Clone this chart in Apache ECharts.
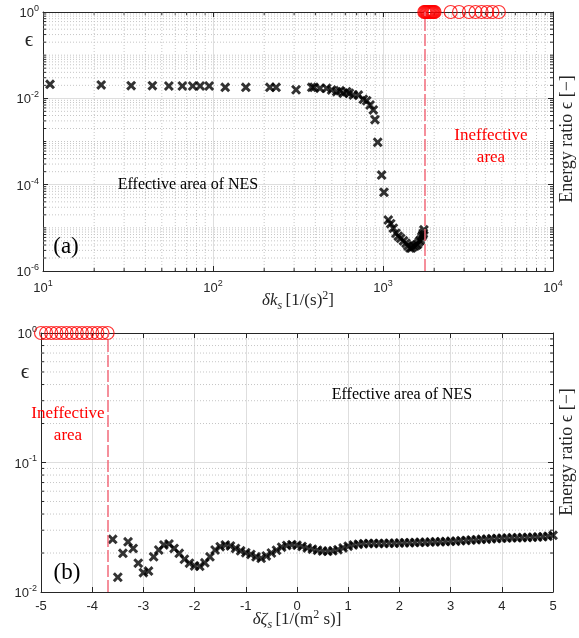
<!DOCTYPE html>
<html>
<head>
<meta charset="utf-8">
<script src="https://cdn.jsdelivr.net/npm/echarts@6/dist/echarts.min.js"></script>
<style>
html, body { margin: 0; padding: 0; background: #fff; }
#chart { width: 579px; height: 638px; }
</style>
</head>
<body>
<div id="chart"></div>
<script>
// panel (a): energy ratio vs delta k_s
const kX = [11, 22, 33, 44, 55, 66, 76, 84, 95, 118, 156, 216, 235, 308, 381, 393, 426, 466, 499,
  534, 559, 584, 611, 634, 669, 716, 766, 802, 839, 877, 897, 931, 982, 1013, 1074, 1110, 1150,
  1192, 1230, 1270, 1320, 1366, 1400, 1441, 1470, 1507, 1540, 1578, 1600, 1635, 1660, 1690, 1710, 1727, 1740];
const kEps = [0.0211, 0.0204, 0.0196, 0.0196, 0.0193, 0.0193, 0.0193, 0.0193, 0.0193, 0.018, 0.018, 0.018,
  0.018, 0.0158, 0.018, 0.018, 0.0171, 0.0171, 0.0156, 0.0143, 0.0150, 0.0131, 0.0143, 0.0131, 0.0119,
  0.0119, 0.0095, 0.0088, 0.0070, 0.0054, 0.0032, 0.00096, 1.67e-4, 6.65e-5, 1.52e-5, 1.25e-5, 9.8e-6,
  7.5e-6, 6.4e-6, 5.7e-6, 5.0e-6, 4.4e-6, 3.8e-6, 3.4e-6, 3.4e-6, 3.7e-6, 3.8e-6, 4.0e-6, 4.2e-6,
  4.8e-6, 5.2e-6, 6.2e-6, 6.8e-6, 7.5e-6, 9.0e-6];
const kOffX = [1750, 1770, 1790, 1810, 1830, 1850, 1870, 1890, 1910, 1930, 1950, 1970, 1990, 2010,
  2500, 2800, 3200, 3500, 3800, 4100, 4400, 4800];
const kLimit = 1750;

// panel (b): energy ratio vs delta zeta_s
const zX = [-3.6, -3.5, -3.4, -3.3, -3.2, -3.1, -3.0, -2.9, -2.8, -2.7, -2.6, -2.5, -2.4, -2.3, -2.2,
  -2.1, -2.0, -1.9, -1.8, -1.7, -1.6, -1.5, -1.4, -1.3, -1.2, -1.1, -1.0, -0.9, -0.8, -0.7, -0.6,
  -0.5, -0.4, -0.3, -0.2, -0.1, 0.0, 0.1, 0.2, 0.3, 0.4, 0.5, 0.6, 0.7, 0.8, 0.9, 1.0, 1.1, 1.2,
  1.3, 1.4, 1.5, 1.6, 1.7, 1.8, 1.9, 2.0, 2.1, 2.2, 2.3, 2.4, 2.5, 2.6, 2.7, 2.8, 2.9, 3.0, 3.1,
  3.2, 3.3, 3.4, 3.5, 3.6, 3.7, 3.8, 3.9, 4.0, 4.1, 4.2, 4.3, 4.4, 4.5, 4.6, 4.7, 4.8, 4.9, 5.0];
const zEps = [0.0255, 0.0130, 0.0199, 0.0244, 0.0217, 0.0167, 0.0141, 0.0145, 0.0187, 0.0211, 0.0231,
  0.0235, 0.0217, 0.0199, 0.0179, 0.0167, 0.0159, 0.0158, 0.0168, 0.0187, 0.0211, 0.0224, 0.0231,
  0.0227, 0.0217, 0.0208, 0.0201, 0.0195, 0.0187, 0.0182, 0.0190, 0.0200, 0.0210, 0.0222, 0.0229,
  0.0232, 0.0230, 0.0225, 0.0219, 0.0214, 0.0210, 0.0207, 0.0206, 0.0208, 0.0212, 0.0219, 0.0226,
  0.0231, 0.0234, 0.0236, 0.0237, 0.0237, 0.0237, 0.0237, 0.0238, 0.0238, 0.0239, 0.0240, 0.0240,
  0.0241, 0.0242, 0.0242, 0.0243, 0.0244, 0.0244, 0.0245, 0.0246, 0.0247, 0.0249, 0.0250, 0.0252,
  0.0253, 0.0255, 0.0256, 0.0258, 0.0259, 0.0260, 0.0261, 0.0262, 0.0262, 0.0263, 0.0264, 0.0265,
  0.0266, 0.0267, 0.0269, 0.0274];
const zOffX = [-5.0, -4.9, -4.8, -4.7, -4.6, -4.5, -4.4, -4.3, -4.2, -4.1, -4.0, -3.9, -3.8, -3.7];
const zLimit = -3.7;

const INK = '#262626';
const SANS = '"Liberation Sans", Arial, sans-serif';
const SERIF = '"Liberation Serif", "Times New Roman", serif';
const CROSS = 'path://M0,2.1L2.1,0L5,2.9L7.9,0L10,2.1L7.1,5L10,7.9L7.9,10L5,7.1L2.1,10L0,7.9L2.9,5Z';

const powRich = {
  b: { fontSize: 13, fontFamily: SANS, color: INK, verticalAlign: 'bottom' },
  s: { fontSize: 9, fontFamily: SANS, color: INK, verticalAlign: 'bottom', padding: [0, 0, 7, 0] }
};
function powLabel(v, evenOnly) {
  const e = Math.round(Math.log10(v));
  if (evenOnly && e % 2 !== 0) return '';
  return '{b|10}{s|' + e + '}';
}

// minor grid positions (2..9 x 10^e) plus the unlabeled decades
function minors(e0, e1, extraDecades) {
  const out = [];
  for (let e = e0; e < e1; e++) {
    for (let m = 2; m <= 9; m++) out.push(m * Math.pow(10, e));
  }
  (extraDecades || []).forEach(e => out.push(Math.pow(10, e)));
  return out;
}

function gridSeries(xi, yi, xr, yr, xs, ys) {
  const data = [];
  xs.forEach(v => data.push([v, yr[0], 0]));
  ys.forEach(v => data.push([xr[0], v, 1]));
  return {
    type: 'custom', xAxisIndex: xi, yAxisIndex: yi, silent: true, z: 1, clip: false,
    data: data,
    renderItem: function (params, api) {
      const horiz = api.value(2) === 1;
      let p0, p1;
      if (horiz) {
        p0 = api.coord([xr[0], api.value(1)]);
        p1 = api.coord([xr[1], api.value(1)]);
      } else {
        p0 = api.coord([api.value(0), yr[0]]);
        p1 = api.coord([api.value(0), yr[1]]);
      }
      const dot = { stroke: '#c6c6c6', lineWidth: 1, lineDash: [1, 2] };
      const tick = { stroke: INK, lineWidth: 1 };
      const ch = [{ type: 'line', shape: { x1: p0[0], y1: p0[1], x2: p1[0], y2: p1[1] }, style: dot }];
      if (horiz) {
        ch.push({ type: 'line', shape: { x1: p0[0], y1: p0[1], x2: p0[0] + 3, y2: p0[1] }, style: tick });
        ch.push({ type: 'line', shape: { x1: p1[0], y1: p1[1], x2: p1[0] - 3, y2: p1[1] }, style: tick });
      } else {
        ch.push({ type: 'line', shape: { x1: p0[0], y1: p0[1], x2: p0[0], y2: p0[1] - 3 }, style: tick });
        ch.push({ type: 'line', shape: { x1: p1[0], y1: p1[1], x2: p1[0], y2: p1[1] + 3 }, style: tick });
      }
      return { type: 'group', children: ch };
    }
  };
}

function baseAxis(extra) {
  return Object.assign({
    axisLine: { show: true, onZero: false, lineStyle: { color: INK, width: 1 } },
    axisTick: { show: true, inside: true, length: 5, lineStyle: { color: INK } },
    splitLine: { show: false },
    axisLabel: { show: false }
  }, extra);
}

const nameRich = {
  it: { fontFamily: SERIF, fontStyle: 'italic', fontSize: 17, color: INK, verticalAlign: 'bottom' },
  rm: { fontFamily: SERIF, fontSize: 17, color: INK, verticalAlign: 'bottom' },
  sub: { fontFamily: SERIF, fontStyle: 'italic', fontSize: 12, color: INK, verticalAlign: 'bottom', padding: [0, 0, -3, 0] },
  sup: { fontFamily: SERIF, fontSize: 12, color: INK, verticalAlign: 'bottom', padding: [0, 0, 7, 0] }
};

const majorGrid = { show: true, lineStyle: { color: '#dedede', width: 1 } };

function txt(x, y, text, font, fill, extra) {
  return Object.assign({
    type: 'text', x: x, y: y, z: 100,
    style: { text: text, font: font, fill: fill, align: 'center', verticalAlign: 'middle', lineHeight: 22 }
  }, extra || {});
}

const option = {
  animation: false,
  backgroundColor: '#fff',
  grid: [
    { left: 43, right: 26, top: 12, height: 259, outerBoundsMode: 'none' },
    { left: 41, right: 26, top: 333, height: 259, outerBoundsMode: 'none' }
  ],
  xAxis: [
    baseAxis({
      type: 'log', logBase: 10, gridIndex: 0, min: 10, max: 10000, position: 'bottom',
      splitLine: majorGrid,
      axisLabel: { show: true, margin: 8, formatter: v => powLabel(v, false), rich: powRich },
      name: '{it|δk}{sub|s} {rm|[1/(s)}{sup|2}{rm|]}', nameLocation: 'middle', nameGap: 19,
      nameMoveOverlap: false,
      nameTextStyle: { rich: nameRich }
    }),
    baseAxis({ type: 'log', logBase: 10, gridIndex: 0, min: 10, max: 10000, position: 'top' }),
    baseAxis({
      type: 'value', gridIndex: 1, min: -5, max: 5, interval: 1, position: 'bottom',
      splitLine: majorGrid,
      axisLabel: { show: true, margin: 8, fontFamily: SANS, fontSize: 13, color: INK },
      name: '{it|δζ}{sub|s} {rm|[1/(m}{sup|2}{rm| s)]}', nameLocation: 'middle', nameGap: 17,
      nameMoveOverlap: false,
      nameTextStyle: { rich: nameRich }
    }),
    baseAxis({ type: 'value', gridIndex: 1, min: -5, max: 5, interval: 1, position: 'top' })
  ],
  yAxis: [
    baseAxis({
      type: 'log', logBase: 10, gridIndex: 0, min: 1e-6, max: 1, interval: 2, position: 'left',
      splitLine: majorGrid,
      axisLabel: { show: true, margin: 4, formatter: v => powLabel(v, true), rich: powRich }
    }),
    baseAxis({ type: 'log', logBase: 10, gridIndex: 0, min: 1e-6, max: 1, interval: 2, position: 'right' }),
    baseAxis({
      type: 'log', logBase: 10, gridIndex: 1, min: 0.01, max: 1, position: 'left',
      splitLine: majorGrid,
      axisLabel: { show: true, margin: 4, formatter: v => powLabel(v, false), rich: powRich }
    }),
    baseAxis({ type: 'log', logBase: 10, gridIndex: 1, min: 0.01, max: 1, position: 'right' })
  ],
  series: [
    gridSeries(0, 0, [10, 10000], [1e-6, 1], minors(1, 4), minors(-6, 0, [-5, -3, -1])),
    gridSeries(2, 2, [-5, 5], [0.01, 1], [], minors(-2, 0)),
    {
      type: 'scatter', xAxisIndex: 0, yAxisIndex: 0, z: 3,
      data: kX.map((x, i) => [x, kEps[i]]),
      symbol: CROSS, symbolSize: 10,
      itemStyle: { color: '#000' },
      markLine: {
        silent: true, symbol: ['none', 'none'], label: { show: false },
        lineStyle: { color: '#f26b7b', type: [12, 3], width: 1.5 },
        data: [{ xAxis: kLimit }]
      }
    },
    {
      type: 'scatter', xAxisIndex: 0, yAxisIndex: 0, z: 4, clip: false,
      data: kOffX.map(x => [x, 1]),
      symbol: 'circle', symbolSize: 13,
      itemStyle: { color: 'rgba(0,0,0,0)', borderColor: '#ff0000', borderWidth: 1.2 }
    },
    {
      type: 'scatter', xAxisIndex: 2, yAxisIndex: 2, z: 3,
      data: zX.map((x, i) => [x, zEps[i]]),
      symbol: CROSS, symbolSize: 10,
      itemStyle: { color: '#000' },
      markLine: {
        silent: true, symbol: ['none', 'none'], label: { show: false },
        lineStyle: { color: '#f26b7b', type: [12, 3], width: 1.5 },
        data: [{ xAxis: zLimit }]
      }
    },
    {
      type: 'scatter', xAxisIndex: 2, yAxisIndex: 2, z: 4, clip: false,
      data: zOffX.map(x => [x, 1]),
      symbol: 'circle', symbolSize: 13,
      itemStyle: { color: 'rgba(0,0,0,0)', borderColor: '#ff0000', borderWidth: 1.2 }
    }
  ],
  graphic: [
    txt(29, 40, 'ϵ', '21px ' + SERIF, INK),
    txt(25, 372, 'ϵ', '21px ' + SERIF, INK),
    txt(66, 247, '(a)', '23px ' + SERIF, '#000'),
    txt(67, 573, '(b)', '23px ' + SERIF, '#000'),
    txt(188, 185, 'Effective area of NES', '16px ' + SERIF, '#000'),
    txt(402, 395, 'Effective area of NES', '16px ' + SERIF, '#000'),
    txt(491, 147, 'Ineffective\narea', '17px ' + SERIF, '#ff0000'),
    txt(68, 425, 'Ineffective\narea', '17px ' + SERIF, '#ff0000'),
    txt(567, 139, 'Energy ratio ϵ [−]', '18px ' + SERIF, INK, { rotation: Math.PI / 2 }),
    txt(567, 452, 'Energy ratio ϵ [−]', '18px ' + SERIF, INK, { rotation: Math.PI / 2 })
  ]
};

const chart = echarts.init(document.getElementById('chart'));
chart.setOption(option);
</script>
</body>
</html>
